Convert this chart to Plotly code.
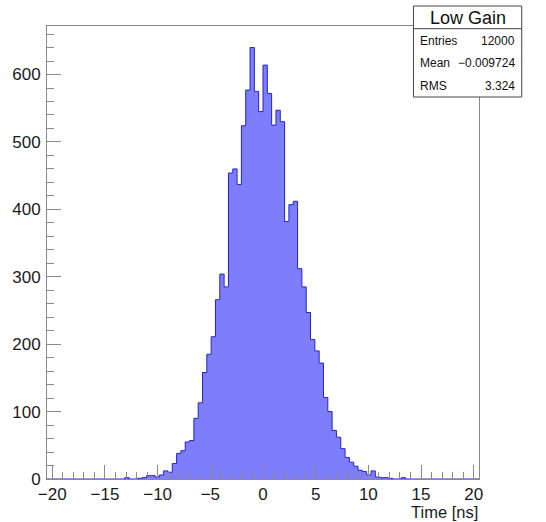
import plotly.graph_objects as go

# ---- data -------------------------------------------------------------
x_min = -20.5
x_max = 20.5
n_bins = 100

counts = [
    0, 0, 0, 0, 0, 0, 0, 0, 0, 0,
    0, 0, 0, 0, 0, 0, 0, 0, 2, 0,
    0, 1, 2, 5, 5, 3, 6, 12, 10, 23,
    38, 42, 55, 57, 90, 113, 158, 185, 211, 266,
    304, 285, 454, 460, 437, 524, 577, 640, 575, 545,
    614, 572, 525, 547, 530, 382, 407, 412, 312, 285,
    247, 207, 190, 172, 121, 100, 72, 62, 45, 32,
    25, 19, 13, 11, 6, 12, 3, 2, 2, 1,
    0, 0, 2, 0, 0, 0, 0, 0, 0, 0,
    0, 0, 0, 0, 0, 0, 0, 0, 0, 0,
]

stats_title = "Low Gain"
stats_labels = ["Entries", "Mean", "RMS"]
stats_values = ["12000", "\u22120.009724", "3.324"]
x_title = "Time [ns]"

# ---- geometry ---------------------------------------------------------
W, H = 546, 522
ML, MR, MT, MB = 44, 67, 26, 43
PW, PH = W - ML - MR, H - MT - MB


def xp(px):
    return (px - ML) / PW


def yp(py):
    return (H - MB - py) / PH


bw = (x_max - x_min) / n_bins
edges = [x_min + i * bw for i in range(n_bins + 1)]
ys = counts + [counts[-1]]

FONT = "Liberation Sans, Arial, Helvetica, sans-serif"

fig = go.Figure()
fig.add_trace(go.Scatter(
    x=edges, y=ys, mode="lines", line_shape="hv",
    line=dict(color="rgb(35,35,205)", width=1),
    fill="tozeroy", fillcolor="rgb(126,126,252)",
    hoverinfo="skip", showlegend=False,
))

axis_common = dict(
    showgrid=False, zeroline=False, showline=True, linecolor="#8a8a8a",
    linewidth=1, mirror=True, ticks="inside", tickcolor="#8a8a8a",
    tickwidth=1, ticklen=14,
    tickfont=dict(family=FONT, size=17, color="#1a1a1a"),
)

fig.update_xaxes(
    range=[x_min, x_max], tick0=0, dtick=5,
    minor=dict(ticks="inside", dtick=1, tick0=0, ticklen=7,
               tickcolor="#8a8a8a", tickwidth=1, showgrid=False),
    **axis_common,
)
fig.update_yaxes(
    range=[0, max(counts) * 1.05], tick0=0, dtick=100,
    minor=dict(ticks="inside", dtick=20, tick0=0, ticklen=7,
               tickcolor="#8a8a8a", tickwidth=1, showgrid=False),
    ticklabelstandoff=2,
    **axis_common,
)

# stats box
bx0, bx1, by0, by1, bsep = 413, 522, 6, 97, 28.7
fig.add_shape(type="rect", xref="paper", yref="paper",
              x0=xp(bx0), x1=xp(bx1), y0=yp(by1), y1=yp(by0),
              line=dict(color="#444", width=1), fillcolor="white", layer="above")
fig.add_shape(type="line", xref="paper", yref="paper",
              x0=xp(bx0), x1=xp(bx1), y0=yp(bsep), y1=yp(bsep),
              line=dict(color="#444", width=1), layer="above")

annotations = [
    dict(text=stats_title, x=xp((bx0 + bx1) / 2), y=yp(17.5),
         xanchor="center", yanchor="middle",
         font=dict(family=FONT, size=18, color="#111")),
]
rows_y = [40.7, 63.0, 86.0]
for lab, val, ry in zip(stats_labels, stats_values, rows_y):
    annotations.append(dict(text=lab, x=xp(bx0 + 5), y=yp(ry),
                            xanchor="left", yanchor="middle",
                            font=dict(family=FONT, size=12, color="#111")))
    annotations.append(dict(text=val, x=xp(bx1 - 5), y=yp(ry),
                            xanchor="right", yanchor="middle",
                            font=dict(family=FONT, size=12, color="#111")))
annotations.append(dict(text=x_title, x=xp(480), y=yp(511.5),
                        xanchor="right", yanchor="middle",
                        font=dict(family=FONT, size=16.5, color="#1a1a1a")))
for a in annotations:
    a.update(xref="paper", yref="paper", showarrow=False)

fig.update_layout(
    width=W, height=H,
    margin=dict(l=ML, r=MR, t=MT, b=MB, pad=0),
    plot_bgcolor="white", paper_bgcolor="white",
    annotations=annotations,
    font=dict(family=FONT),
)

fig.write_html("out.html")
